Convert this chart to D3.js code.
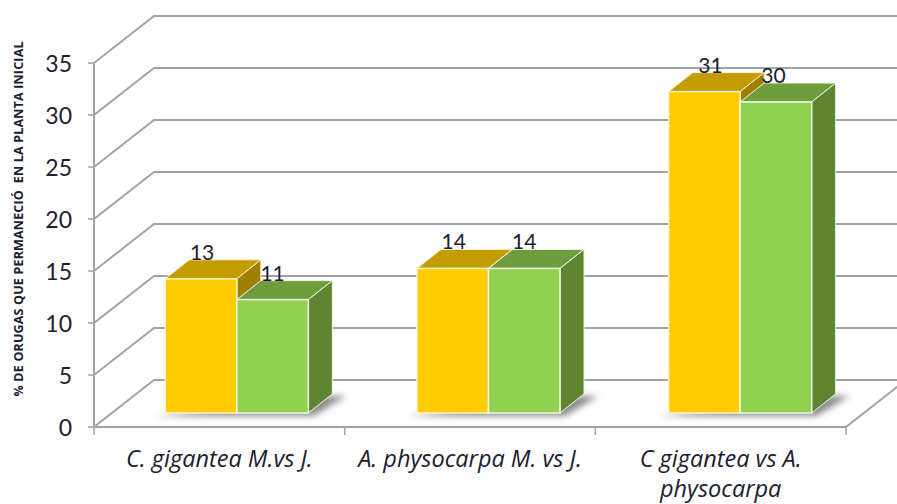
<!DOCTYPE html>
<html>
<head>
<meta charset="utf-8">
<script src="https://cdn.jsdelivr.net/npm/d3@7"></script>
<style>
  html, body { margin: 0; padding: 0; background: #fff; overflow: hidden; }
  text { fill: #1c2030; font-family: Lato, "Open Sans", sans-serif; }
</style>
</head>
<body>
<div id="chart"></div>
<script>
var categories = ["C. gigantea M.vs J.", "A. physocarpa M. vs J.", "C gigantea vs A."];
var categoryExtra = ["", "", "physocarpa"];
var serieA = [13, 14, 31];
var serieB = [11, 14, 30];
var yTicks = [0, 5, 10, 15, 20, 25, 30, 35];
var yTitle = "% DE ORUGAS QUE PERMANECIÓ  EN LA PLANTA INICIAL";

var width = 897, height = 504;
var wallDx = 60, wallDy = -47;   // depth of the whole floor
var barDx = 24, barDy = -19;     // depth of one bar
var floorShift = -14;            // bars sit this far back from the front axis
var gridColor = "#a3a3a3";

var svg = d3.select("#chart").append("svg").attr("width", width).attr("height", height);

var defs = svg.append("defs");
defs.append("filter").attr("id", "blur").attr("x", "-20%").attr("y", "-50%")
  .attr("width", "140%").attr("height", "200%")
  .append("feGaussianBlur").attr("stdDeviation", 3);

var y = d3.scaleLinear().domain([0, 35]).range([427, 63]);
var xAxis = d3.scaleBand().domain(d3.range(3)).range([94, 846]);
var xBars = d3.scaleBand().domain(d3.range(3)).range([111, 866]);
var barW = 71.5;

// back wall grid + slanted side wall lines
yTicks.forEach(function(t) {
  svg.append("path")
    .attr("d", "M94," + y(t) + "L" + (94 + wallDx) + "," + (y(t) + wallDy) + "L" + (width + 10) + "," + (y(t) + wallDy))
    .attr("fill", "none").attr("stroke", gridColor).attr("stroke-width", 2);
  svg.append("line")
    .attr("x1", 88).attr("x2", 94).attr("y1", y(t)).attr("y2", y(t))
    .attr("stroke", gridColor).attr("stroke-width", 1.5);
  svg.append("text")
    .attr("x", 72).attr("y", y(t) + 9)
    .attr("text-anchor", "end").attr("font-size", 23)
    .text(t);
});

// floor front edge, right edge and y axis line
svg.append("line").attr("x1", 94).attr("x2", 94).attr("y1", y(35)).attr("y2", y(0))
  .attr("stroke", gridColor).attr("stroke-width", 2);
svg.append("path")
  .attr("d", "M94," + y(0) + "L846," + y(0) + "L" + (846 + wallDx) + "," + (y(0) + wallDy))
  .attr("fill", "none").attr("stroke", gridColor).attr("stroke-width", 2);
d3.range(4).forEach(function(i) {
  var px = i < 3 ? xAxis(i) : 846;
  svg.append("line").attr("x1", px).attr("x2", px).attr("y1", y(0)).attr("y2", y(0) + 8)
    .attr("stroke", gridColor).attr("stroke-width", 1.5);
});

function box(g, x0, v, colors) {
  var yb = y(0) + floorShift, yt = y(v) + floorShift + 1;
  var x1 = x0 + barW;
  g.append("path")
    .attr("d", "M" + x0 + "," + yt + "L" + (x0 + barDx) + "," + (yt + barDy) + "L" + (x1 + barDx) + "," + (yt + barDy) + "L" + x1 + "," + yt + "Z")
    .attr("fill", colors.top).attr("stroke", colors.edge).attr("stroke-width", 1);
  g.append("path")
    .attr("d", "M" + x1 + "," + yt + "L" + (x1 + barDx) + "," + (yt + barDy) + "L" + (x1 + barDx) + "," + (yb + barDy) + "L" + x1 + "," + yb + "Z")
    .attr("fill", colors.side).attr("stroke", colors.edge).attr("stroke-width", 1);
  g.append("rect")
    .attr("x", x0).attr("y", yt).attr("width", barW).attr("height", yb - yt)
    .attr("fill", colors.front).attr("stroke", colors.edge).attr("stroke-width", 1.5);
}

var yellow = { front: "#ffcc00", top: "#c29c00", side: "#a07f00", edge: "#fdf3cf" };
var green = { front: "#92d050", top: "#6f9c3c", side: "#5f8533", edge: "#eef7e4" };

categories.forEach(function(c, i) {
  var x0 = xBars(i) + xBars.bandwidth() / 2 - barW;
  var yb = y(0) + floorShift;
  // floor shadow
  svg.append("path")
    .attr("d", "M" + (x0 - 9) + "," + (yb + 3) + "L" + (x0 + 2 * barW + 5) + "," + (yb + 3) + "L" + (x0 + 2 * barW + barDx + 14) + "," + (yb + barDy + 2) + "L" + (x0 + 2 * barW) + "," + (yb + barDy + 2) + "Z")
    .attr("fill", "#666").attr("opacity", 0.75).attr("filter", "url(#blur)");
  var g = svg.append("g");
  box(g, x0, serieA[i], yellow);
  box(g, x0 + barW, serieB[i], green);

  // the tall pair has its labels pushed apart a little in the original
  var nudge = serieA[i] > 20 ? 5 : 0;
  svg.append("text").attr("x", x0 + barW / 2 + 1 + nudge).attr("y", y(serieA[i]) + floorShift - 18)
    .attr("text-anchor", "middle").attr("font-size", 21).text(serieA[i]);
  svg.append("text").attr("x", x0 + barW * 1.5 - nudge / 2).attr("y", y(serieB[i]) + floorShift - 18)
    .attr("text-anchor", "middle").attr("font-size", 21).text(serieB[i]);

  var cx = xAxis(i) + xAxis.bandwidth() / 2;
  svg.append("text").attr("x", cx).attr("y", 467)
    .attr("text-anchor", "middle").style("font-family", "'Open Sans'").attr("font-size", 23.5)
    .attr("font-style", "italic").text(c);
  if (categoryExtra[i]) {
    svg.append("text").attr("x", cx).attr("y", 497)
      .attr("text-anchor", "middle").style("font-family", "'Open Sans'").attr("font-size", 23.5)
      .attr("font-style", "italic").text(categoryExtra[i]);
  }
});

svg.append("text")
  .attr("transform", "translate(23,219) rotate(-90)")
  .attr("text-anchor", "middle")
  .style("font-family", "'Open Sans'")
  .style("white-space", "pre")
  .attr("font-weight", 700)
  .attr("font-size", 12.5)
  .attr("textLength", 355)
  .text(yTitle);
</script>
</body>
</html>
